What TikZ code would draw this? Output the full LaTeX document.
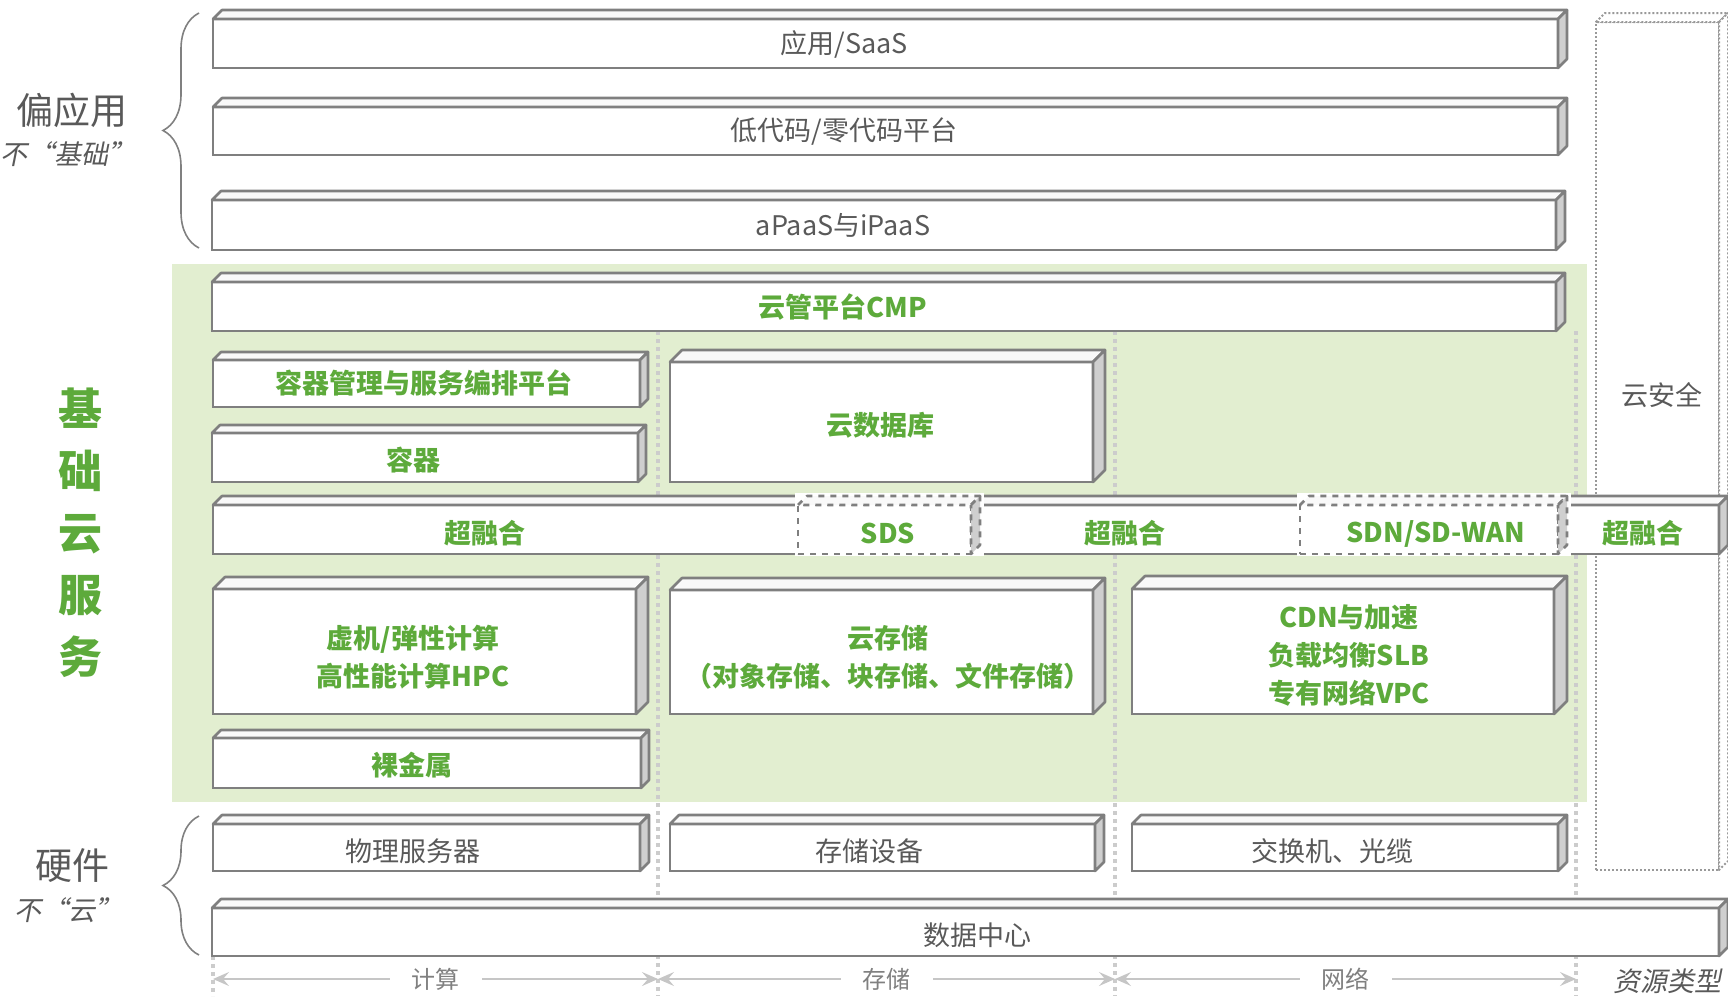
\documentclass[tikz,border=0pt]{standalone}
\usepackage{fontspec}
\setmainfont{Noto Sans CJK SC}
\newfontfamily\slantcjk[FakeSlant=0.2]{Noto Sans CJK SC}
\usepackage{tikz}
\usetikzlibrary{positioning, calc, fit}
\usetikzlibrary{arrows.meta}
\usetikzlibrary{decorations.pathreplacing}

\definecolor{edgegray}{HTML}{7F7F7F}
\definecolor{sidegray}{HTML}{CFCFCF}
\definecolor{txtgray}{HTML}{595959}
\definecolor{leafgreen}{HTML}{5DAA3B}
\definecolor{bggreen}{HTML}{E2EED0}

\tikzset{
	slabface/.style={draw=edgegray, line width=1.3pt, fill=white, inner sep=0pt, outer sep=0pt},
	slabtop/.style={draw=edgegray, line width=1.3pt, fill=gray!5, line join=round},
	slabside/.style={draw=edgegray, line width=1.3pt, fill=sidegray, line join=round},
	graytext/.style={text=txtgray, font=\fontsize{13.5}{17}\selectfont, align=center},
	greentext/.style={text=leafgreen, font=\fontsize{13.5}{19}\selectfont\bfseries, align=center},
	sidetext/.style={text=txtgray, font=\fontsize{18.5}{22}\selectfont},
	notetext/.style={text=txtgray, font=\fontsize{13.5}{15}\selectfont\slantcjk},
	sepline/.style={gray!40, line width=2pt, dash pattern=on 2pt off 2pt},
	sortbrace/.style={draw=gray, line width=0.8pt, decorate, decoration={brace, amplitude=18pt}},
	resarrow/.style={gray!45, line width=0.8pt, {Stealth[length=8pt, width=7pt, inset=3pt]}-{Stealth[length=8pt, width=7pt, inset=3pt]}},
	axislabel/.style={fill=white, inner xsep=11pt, text=gray, font=\fontsize{12}{14}\selectfont},
}

% 3D slab: [style]{name}{nw corner}{se corner}{depth}
\newcommand{\slab}[5][]{%
	\node[slabface, #1, fit={(#3) (#4)}] (#2) {};
	\draw[slabtop, #1] (#2.north west) -- ++(#5,-#5) -- ($(#2.north east)+(#5,-#5)$) -- (#2.north east) -- cycle;
	\draw[slabside, #1] (#2.north east) -- ++(#5,-#5) -- ($(#2.south east)+(#5,-#5)$) -- (#2.south east) -- cycle;
}

\begin{document}
\begin{tikzpicture}[x=0.5pt, y=-0.5pt]
	\useasboundingbox (0,0) rectangle (1728,996);
	\fill[bggreen] (172,264) rectangle (1587,802);

	% resource type columns
	\foreach \sx in {658,1115,1576}
		\draw[sepline] (\sx,331) -- (\sx,996);
	\draw[sepline] (213,956) -- (213,996);

	% security column
	\slab[draw=gray!80, line width=1pt, dash pattern=on 1pt off 1pt, fill=white]{secbox}{1596,22}{1719,870}{9}
	\node[graytext] (sectext) at (1662,395) {云安全};

	% upper layers
	\slab{saas}{213,19}{1558,68}{9}
	\slab{lowcode}{213,107}{1558,155}{9}
	\slab{apaas}{212,200}{1556,250}{9}
	\node[graytext] (saast) at (844,44) {应用/SaaS};
	\node[graytext] (lowcodet) at (844,132) {低代码/零代码平台};
	\node[graytext] (apaast) at (843,225) {aPaaS与iPaaS};

	% cloud basic services
	\slab{cmp}{212,282}{1556,331}{9}
	\slab{k8s}{213,360}{640,407}{8}
	\slab{ctr}{212,433}{638,482}{8}
	\slab{clouddb}{670,362}{1093,482}{12}
	\node[greentext] (cmpt) at (843,307) {云管平台CMP};
	\node[greentext] (k8st) at (424,383) {容器管理与服务编排平台};
	\node[greentext] (ctrt) at (413,460) {容器};
	\node[greentext] (clouddbt) at (880,425) {云数据库};

	\slab{hci}{213,505}{1719,554}{9}
	\fill[white] (795,493) rectangle (984,556);
	\fill[white] (1297,493) rectangle (1571,556);
	\slab[dashed]{sds}{798,505}{971,554}{9}
	\slab[dashed]{sdn}{1300,505}{1558,554}{9}
	\node[greentext] (hcia) at (485,533) {超融合};
	\node[greentext] (sdst) at (888,533) {SDS};
	\node[greentext] (hcib) at (1125,533) {超融合};
	\node[greentext] (sdnt) at (1436,534) {SDN/SD-WAN};
	\node[greentext] (hcic) at (1643,533) {超融合};

	\slab{vm}{213,589}{636,714}{12}
	\slab{oss}{670,590}{1093,714}{12}
	\slab{cdn}{1132,589}{1554,714}{13}
	\slab{bare}{213,738}{641,788}{8}
	\node[greentext] (vmt) at (413,657) {虚机/弹性计算\\高性能计算HPC};
	\node[greentext] (osst) at (888,657) {云存储\\（对象存储、块存储、文件存储）};
	\node[greentext] (cdnt) at (1349,655) {CDN与加速\\负载均衡SLB\\专有网络VPC};
	\node[greentext] (baret) at (412,765) {裸金属};

	% hardware
	\slab{server}{213,824}{640,871}{9}
	\slab{storage}{670,824}{1095,871}{9}
	\slab{switch}{1132,824}{1558,871}{9}
	\slab{idc}{212,908}{1719,956}{9}
	\node[graytext] (servert) at (413,851) {物理服务器};
	\node[graytext] (storaget) at (869,851) {存储设备};
	\node[graytext] (switcht) at (1332,851) {交换机、光缆};
	\node[graytext] (idct) at (977,935) {数据中心};

	% left side labels
	\node[text=leafgreen, font=\fontsize{22}{31}\selectfont\bfseries, align=center] (basic) at (80,533) {基\\础\\云\\服\\务};
	\node[sidetext] (appside) at (72,110) {偏应用};
	\node[notetext] (appnote) at (68,154) {不“基础”};
	\node[sidetext] (hwside) at (72,866) {硬件};
	\node[notetext] (hwnote) at (68,910) {不“云”};
	\coordinate (bra) at (199,13);
	\coordinate (brb) at (199,248);
	\coordinate (brc) at (199,816);
	\coordinate (brd) at (199,955);
	\draw[sortbrace] (brb) -- (bra);
	\draw[sortbrace] (brd) -- (brc);

	% resource axis
	\coordinate (ax0) at (213,979);
	\coordinate (ax1) at (658,979);
	\coordinate (ax2) at (1115,979);
	\coordinate (ax3) at (1576,979);
	\draw[resarrow] (ax0) -- (ax1) node[midway, axislabel] (compt) {计算};
	\draw[resarrow] (ax1) -- (ax2) node[midway, axislabel] (stort) {存储};
	\draw[resarrow] (ax2) -- (ax3) node[midway, axislabel] (nett) {网络};
	\node[text=txtgray, font=\fontsize{13.5}{15}\selectfont\slantcjk] (restype) at (1667,981) {资源类型};
\end{tikzpicture}
\end{document}
